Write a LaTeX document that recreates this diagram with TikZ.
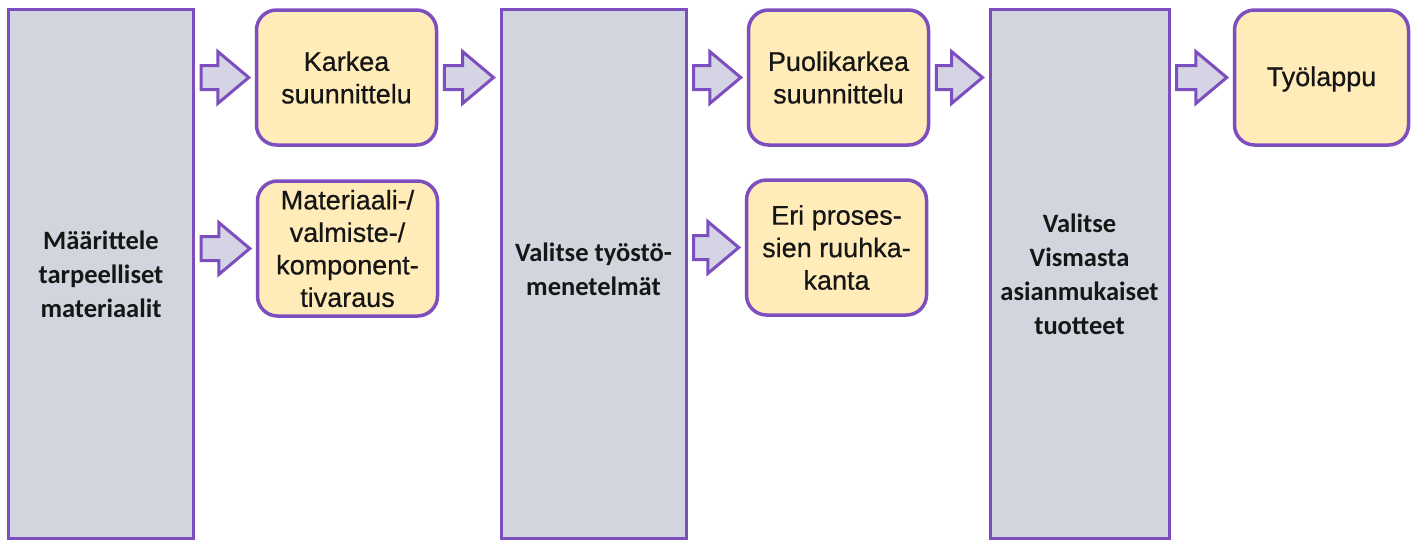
\documentclass[tikz,border=0pt]{standalone}
\usepackage{fontspec}
\setmainfont{Liberation Sans}
\newfontfamily\carlito{Carlito}
\newfontface\taskface[FakeBold=0.6]{Liberation Sans}
\usetikzlibrary{calc}

\definecolor{framepurple}{RGB}{125,78,190}
\definecolor{stagegray}{RGB}{208,213,222}
\definecolor{taskyellow}{RGB}{255,236,184}
\definecolor{arrowfill}{RGB}{212,212,228}
\definecolor{inktext}{RGB}{22,22,22}

\tikzset{
  stage/.style={draw=framepurple, line width=3pt, fill=stagegray,
    minimum width=185pt, minimum height=529pt, inner sep=0pt,
    align=center, text=inktext,
    font=\carlito\bfseries\fontsize{26.5}{34}\selectfont},
  task/.style={draw=framepurple, line width=3.5pt, fill=taskyellow,
    rounded corners=20pt, minimum width=180pt, minimum height=135pt,
    inner sep=0pt, align=center, text=inktext,
    font=\taskface\fontsize{27}{32.5}\selectfont},
  flowarrow/.style={draw=framepurple, line width=3pt, fill=arrowfill,
    line join=miter}
}

% block arrow from the east side of #1 to the west side of #2,
% at the height of node #3
\newcommand\blockflow[3]{%
  \draw[flowarrow] let \p1=(#1.east), \p2=(#2.west), \p3=(#3.center) in
    (\x1+6pt,\y3+12pt) -- (\x2-37pt,\y3+12pt) -- (\x2-37pt,\y3+26pt) --
    (\x2-6pt,\y3) -- (\x2-37pt,\y3-26pt) -- (\x2-37pt,\y3-12pt) --
    (\x1+6pt,\y3-12pt) -- cycle;
}

\begin{document}
\begin{tikzpicture}[x=1pt,y=-1pt]
  \useasboundingbox[fill=white] (0,0) rectangle (1413,542);

  % tall stage columns
  \node[stage] (define) at (101,274) {Määrittele\\tarpeelliset\\materiaalit};
  \node[stage] (methods) at (593.5,274) {Valitse työstö-\\menetelmät\\[-24pt]};
  \node[stage, minimum width=179pt] (products) at (1079.5,274)
    {Valitse\\Vismasta\\asianmukaiset\\tuotteet};

  % task boxes
  \node[task] (rough) at (346.5,77.5) {Karkea\\suunnittelu};
  \node[task] (reserve) at (347.5,248.5)
    {Materiaali-/\\valmiste-/\\komponent-\\tivaraus};
  \node[task] (semi) at (838.5,77.5) {Puolikarkea\\suunnittelu};
  \node[task] (batch) at (836.5,247.5) {Eri proses-\\sien ruuhka-\\kanta};
  \node[task, minimum width=174pt] (worknote) at (1321.5,77.5) {Työlappu\\[-30pt]};

  % flow arrows
  \blockflow{define}{rough}{rough}
  \blockflow{define}{reserve}{reserve}
  \blockflow{rough}{methods}{rough}
  \blockflow{methods}{semi}{semi}
  \blockflow{methods}{batch}{batch}
  \blockflow{semi}{products}{semi}
  \blockflow{products}{worknote}{worknote}
\end{tikzpicture}
\end{document}
